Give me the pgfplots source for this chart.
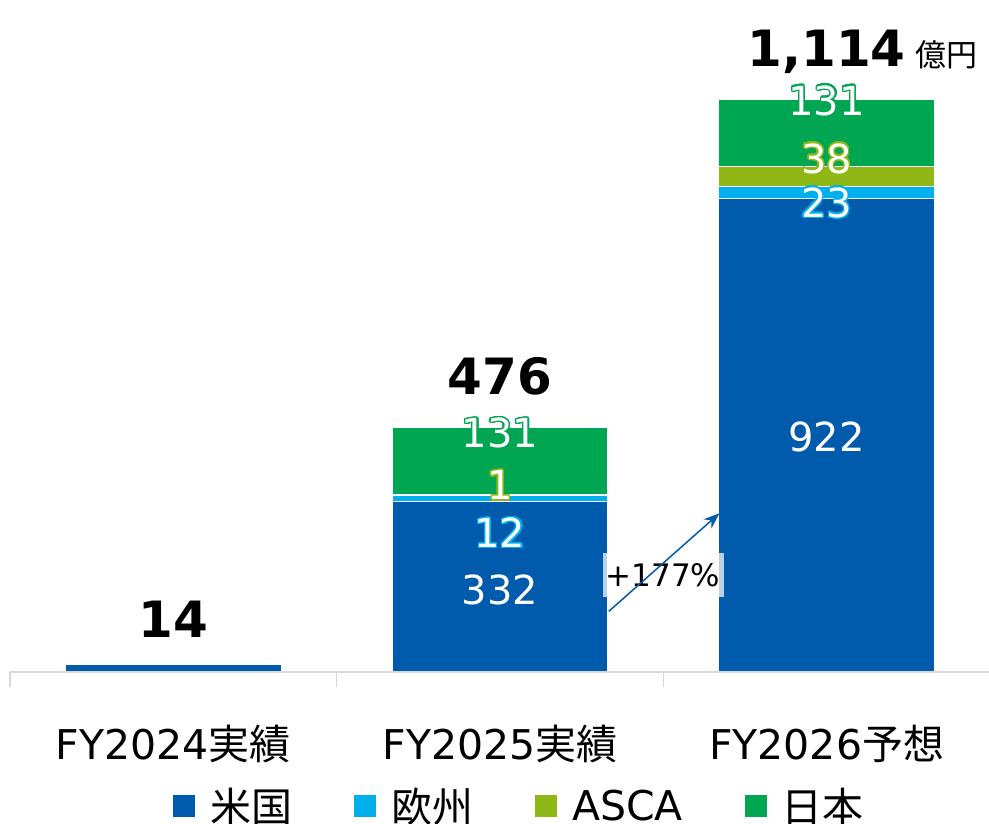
\documentclass[border=0pt]{standalone}
\usepackage{fontspec}
\setmainfont{DejaVu Sans}
\newfontfamily\jp{Noto Sans CJK JP}
\usepackage{pgfplots}
\pgfplotsset{compat=1.18}
\usetikzlibrary{arrows.meta}
\usepackage[copies]{contour}
\contourlength{1.3pt}
\contournumber{32}
\definecolor{cUS}{RGB}{0,91,172}
\definecolor{cEU}{RGB}{0,176,236}
\definecolor{cAS}{RGB}{143,184,22}
\definecolor{cJP}{RGB}{0,166,81}
\definecolor{axgray}{RGB}{217,217,217}
\newcommand{\olab}[2]{{\color{white}\contour{#1}{#2}}}
\begin{document}
\begin{tikzpicture}
\begin{axis}[
  set layers,
  scale only axis, width=980pt, height=668pt,
  xmin=-0.5, xmax=2.5, ymin=0, ymax=1300,
  ybar stacked, bar width=216pt,
  axis x line*=bottom, axis y line=none,
  x axis line style={draw=axgray, line width=1.5pt},
  xtick={0,1,2},
  xticklabels={FY2024{\jp 実績}, FY2025{\jp 実績}, FY2026{\jp 予想}},
  major tick length=0pt,
  minor xtick={-0.5,0.5,1.5,2.5}, minor tick length=15pt, tick align=outside,
  minor tick style={draw=axgray, line width=1.5pt},
  xticklabel style={anchor=base, yshift=-88pt, font=\fontsize{41}{48}\selectfont},
  legend columns=4,
  legend style={at={(0.52,-0.2)}, anchor=center, draw=none, fill=none,
    font=\fontsize{41}{48}\selectfont,
    /tikz/every odd column/.append style={column sep=13pt},
    /tikz/every even column/.append style={column sep=60pt}},
  legend image code/.code={\fill[#1,draw=none] (0pt,-11pt) rectangle (22pt,11pt);},
]
\addplot[on layer=axis background, fill=cUS, draw=white, line width=1.2pt] coordinates {(0,14) (1,332) (2,922)};
\addplot[on layer=axis background, fill=cEU, draw=white, line width=1.2pt] coordinates {(0,0) (1,12) (2,23)};
\addplot[on layer=axis background, fill=cAS, draw=white, line width=1.2pt] coordinates {(0,0) (1,1) (2,38)};
\addplot[on layer=axis background, fill=cJP, draw=white, line width=1.2pt] coordinates {(0,0) (1,131) (2,131)};
\legend{{\jp 米国},{\jp 欧州},ASCA,{\jp 日本}}

\draw[cUS, line width=1.5pt, -{Stealth[length=16pt,width=12pt]}] (axis cs:1.333,118) -- (axis cs:1.672,309);
\node[fill=white, fill opacity=0.72, text opacity=1, inner sep=0pt, minimum width=121pt, minimum height=44pt, font=\fontsize{31}{36}\selectfont] at (axis cs:1.499,189) {+177\%};

\node[font=\fontsize{40}{48}\selectfont, text=white] at (axis cs:1,160) {332};
\node[font=\fontsize{40}{48}\selectfont] at (axis cs:1,270) {\olab{cEU}{12}};
\node[font=\fontsize{40}{48}\selectfont] at (axis cs:1,362) {\olab{cAS}{1}};
\node[font=\fontsize{40}{48}\selectfont] at (axis cs:1,464) {\olab{cJP}{131}};
\node[font=\fontsize{40}{48}\selectfont, text=white] at (axis cs:2,457) {922};
\node[font=\fontsize{40}{48}\selectfont] at (axis cs:2,912) {\olab{cEU}{23}};
\node[font=\fontsize{40}{48}\selectfont] at (axis cs:2,998) {\olab{cAS}{38}};
\node[font=\fontsize{40}{48}\selectfont] at (axis cs:2,1111) {\olab{cJP}{131}};

\node[anchor=base, yshift=27pt, font=\bfseries\fontsize{50}{60}\selectfont] at (axis cs:0,14) {14};
\node[anchor=base, yshift=33pt, font=\bfseries\fontsize{50}{60}\selectfont] at (axis cs:1,476) {476};
\node[anchor=base, yshift=33pt, font=\bfseries\fontsize{50}{60}\selectfont] at (axis cs:2,1114) {1,114\rlap{\mdseries\fontsize{31}{36}\selectfont\jp\hspace{10pt}億円}};
\end{axis}
\pgfresetboundingbox
\useasboundingbox (-10pt,-152pt) rectangle (979pt,672pt);
\end{tikzpicture}
\end{document}
